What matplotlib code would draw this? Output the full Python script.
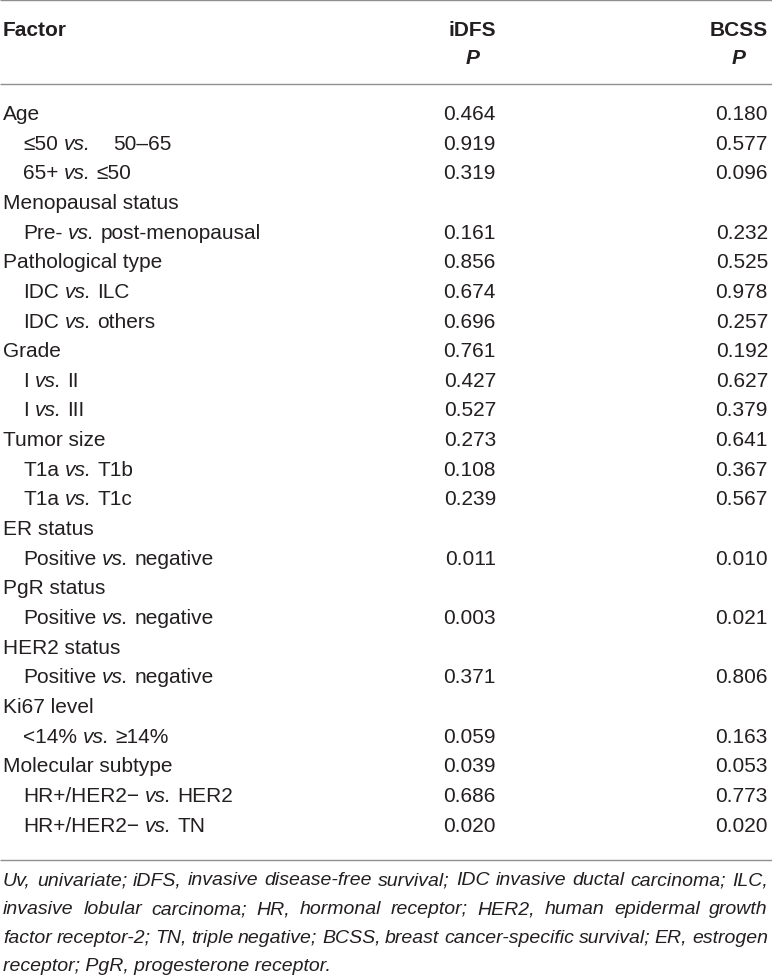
import matplotlib
matplotlib.use("Agg")
import matplotlib.pyplot as plt

# table content
factors = [
    "Age", "≤50 vs.    50–65", "65+ vs. ≤50",
    "Menopausal status", "Pre- vs. post-menopausal",
    "Pathological type", "IDC vs. ILC", "IDC vs. others",
    "Grade", "I vs. II", "I vs. III",
    "Tumor size", "T1a vs. T1b", "T1a vs. T1c",
    "ER status", "Positive vs. negative",
    "PgR status", "Positive vs. negative",
    "HER2 status", "Positive vs. negative",
    "Ki67 level", "<14% vs. ≥14%",
    "Molecular subtype", "HR+/HER2− vs. HER2", "HR+/HER2− vs. TN",
]
indent = [0, 1, 1, 0, 1, 0, 1, 1, 0, 1, 1, 0, 1, 1,
          0, 1, 0, 1, 0, 1, 0, 1, 0, 1, 1]
idfs_p = ["0.464", "0.919", "0.319", "", "0.161", "0.856", "0.674", "0.696",
          "0.761", "0.427", "0.527", "0.273", "0.108", "0.239", "", "0.011",
          "", "0.003", "", "0.371", "", "0.059", "0.039", "0.686", "0.020"]
bcss_p = ["0.180", "0.577", "0.096", "", "0.232", "0.525", "0.978", "0.257",
          "0.192", "0.627", "0.379", "0.641", "0.367", "0.567", "", "0.010",
          "", "0.021", "", "0.806", "", "0.163", "0.053", "0.773", "0.020"]
columns = ["iDFS", "BCSS"]

footnote = [
    "Uv, univariate; iDFS, invasive disease-free survival; IDC invasive ductal carcinoma; ILC,",
    "invasive lobular carcinoma; HR, hormonal receptor; HER2, human epidermal growth",
    "factor receptor-2; TN, triple negative; BCSS, breast cancer-specific survival; ER, estrogen",
    "receptor; PgR, progesterone receptor.",
]

FONT = ["Liberation Sans", "DejaVu Sans"]
INK = "#231f20"
RULE = "#8f8f8f"
FS = 15
FS_NOTE = 14

fig = plt.figure(figsize=(7.72, 9.79), dpi=100)
ax = fig.add_axes([0, 0, 1, 1])
ax.set_xlim(0, 772)
ax.set_ylim(979, 0)
ax.axis("off")
renderer = fig.canvas.get_renderer()


def width(s, **kw):
    t = ax.text(0, 0, s, family=FONT, **kw)
    w = t.get_window_extent(renderer).width
    t.remove()
    return w


def put(x, y, s, **kw):
    t = ax.text(x, y, s, family=FONT, color=INK, va="baseline", **kw)
    return t.get_window_extent(renderer).width


def label(x, y, s):
    # "vs." is set in italic, the rest upright
    sp = width("a a", fontsize=FS) - width("aa", fontsize=FS)
    for i, p in enumerate(s.split("vs.")):
        if i > 0:
            x += put(x, y, "vs.", fontsize=FS, style="italic")
        core = p.strip(" ")
        x += (len(p) - len(p.lstrip(" "))) * sp
        if core:
            x += put(x, y, core, fontsize=FS)
            x += (len(p) - len(p.rstrip(" "))) * sp


x_left = 3
x_ind = 23
x_cols = [496, 768]

# rules
for yy in [1, 85, 861]:
    ax.plot([0, 772], [yy, yy], color=RULE, lw=1.0, solid_capstyle="butt")

# header
put(x_left, 35.5, "Factor", fontsize=FS, weight="bold")
for xc, name in zip(x_cols, columns):
    put(xc, 35.5, name, fontsize=FS, weight="bold", ha="right")
    w = width(name, fontsize=FS, weight="bold")
    put(xc - w / 2, 64, "P", fontsize=FS, weight="bold", style="italic", ha="center")

# body
y0, dy = 120, 29.65
for i, f in enumerate(factors):
    y = y0 + i * dy
    label(x_ind if indent[i] else x_left, y, f)
    put(x_cols[0], y, idfs_p[i], fontsize=FS, ha="right")
    put(x_cols[1], y, bcss_p[i], fontsize=FS, ha="right")

# footnote, justified except last line
fy0, fdy = 885.5, 28.6
left, right = 3, 768
for k, line in enumerate(footnote):
    y = fy0 + k * fdy
    words = line.split(" ")
    if k == len(footnote) - 1:
        put(left, y, line, fontsize=FS_NOTE, style="italic")
        continue
    ws = [width(w, fontsize=FS_NOTE, style="italic") for w in words]
    gap = (right - left - sum(ws)) / (len(words) - 1)
    x = left
    for w, wd in zip(words, ws):
        put(x, y, w, fontsize=FS_NOTE, style="italic")
        x += wd + gap

fig.savefig("out.png", dpi=100)
